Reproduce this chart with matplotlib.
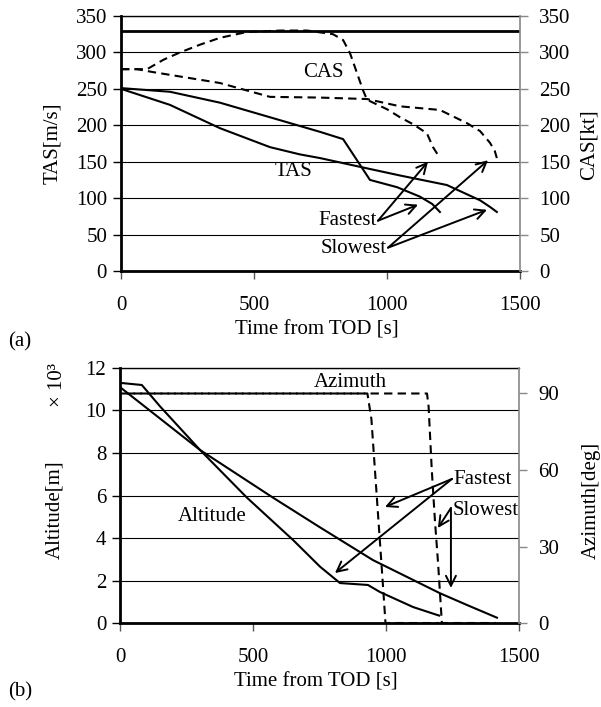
import matplotlib.pyplot as plt

plt.rcParams['font.family'] = ['Liberation Serif', 'DejaVu Serif']
plt.rcParams['font.size'] = 15

# (a) TAS [m/s] and CAS [kt] vs time from TOD [s]
tas_fast_t = [0, 184, 372, 560, 748, 835, 936, 1038, 1124, 1170, 1199]
tas_fast = [251, 246, 231, 211, 191, 181, 125, 115, 102, 92, 81]
tas_slow_t = [0, 184, 372, 560, 673, 748, 898, 1050, 1225, 1350, 1387, 1413]
tas_slow = [250, 228, 196, 170, 160, 155, 143, 131, 118, 97, 88, 81]

cas_fast_t = [0, 98, 160, 222, 300, 372, 473, 600, 700, 797, 835, 861, 910, 925,
              1000, 1049, 1100, 1150, 1173, 1199]
cas_fast = [277, 277, 290, 300, 311, 320, 328, 330, 330, 325, 317, 299, 248, 235,
            222, 211, 201, 189, 170, 155]
cas_slow_t = [0, 60, 120, 372, 560, 748, 925, 1049, 1199, 1300, 1350, 1387, 1405, 1413]
cas_slow = [277, 277, 273, 258, 239, 238, 236, 226, 221, 203, 192, 176, 165, 155]
vmo = 330

# (b) altitude [x10^3 m] and azimuth [deg] vs time from TOD [s]
alt_fast_t = [0, 82, 150, 301, 477, 651, 752, 827, 932, 977, 1102, 1192, 1200]
alt_fast = [11.3, 11.2, 10.2, 8.14, 5.9, 3.9, 2.65, 1.88, 1.79, 1.46, 0.75, 0.38, 0.35]
alt_slow_t = [0, 301, 575, 752, 951, 1203, 1304, 1417]
alt_slow = [11.1, 8.14, 5.9, 4.5, 2.96, 1.4, 0.85, 0.25]

az_fast_t = [0, 930, 945, 965, 985, 998, 1200]
az_fast = [90, 90, 80, 50, 20, 0, 0]
az_slow_t = [0, 1154, 1160, 1172, 1184, 1196, 1210, 1413]
az_slow = [90, 90, 85, 60, 40, 23, 0, 0]

time_ticks = [0, 500, 1000, 1500]

lw = 1.5
dash = (0, (4, 2.5))
dash2 = (3.25, (4, 2.5))
arrow = dict(arrowstyle='->', lw=1.4, color='black', mutation_scale=18,
             shrinkA=0, shrinkB=0)


def style(ax, axr, ylim, yticks, ylim_r, yticks_r):
    ax.set_xlim(0, 1500)
    ax.set_ylim(*ylim)
    ax.set_yticks(yticks)
    ax.set_xticks(time_ticks)
    axr.set_ylim(*ylim_r)
    axr.set_yticks(yticks_r)
    ax.yaxis.grid(True, color='black', lw=0.8)
    ax.set_axisbelow(True)
    ax.spines['left'].set_linewidth(2)
    ax.spines['bottom'].set_linewidth(2)
    ax.spines['top'].set_linewidth(1)
    ax.spines['right'].set_visible(False)
    for s in ['left', 'bottom', 'top']:
        axr.spines[s].set_visible(False)
    axr.spines['right'].set_color('#888888')
    axr.spines['right'].set_linewidth(1.2)
    ax.tick_params(axis='y', direction='out', length=6, width=1, pad=4)
    ax.tick_params(axis='x', direction='out', length=6, width=1, color='#555555', pad=12)
    axr.tick_params(axis='y', direction='out', length=6, width=1, color='#888888', pad=8)


fig = plt.figure(figsize=(6.01, 7.07), dpi=100)

# ---- (a)
ax1 = fig.add_axes([0.2013, 0.6167, 0.6639, 0.3607])
ax1r = ax1.twinx()
style(ax1, ax1r, (0, 350), range(0, 351, 50), (0, 350), range(0, 351, 50))

ax1r.axhline(vmo, color='black', lw=2)
ax1.plot(tas_fast_t, tas_fast, color='black', lw=lw)
ax1.plot(tas_slow_t, tas_slow, color='black', lw=lw)
ax1r.plot(cas_fast_t, cas_fast, color='black', lw=lw, linestyle=dash)
ax1r.plot(cas_slow_t, cas_slow, color='black', lw=lw, linestyle=dash)

ax1.text(760, 273, 'CAS', ha='center', va='center')
ax1.text(647, 136, 'TAS', ha='center', va='center')
ax1.text(962, 69, 'Fastest', ha='right', va='center')
ax1.text(1000, 31, 'Slowest', ha='right', va='center')
ax1.annotate('', xy=(1154, 150), xytext=(966, 69), arrowprops=arrow)
ax1.annotate('', xy=(1117, 91), xytext=(966, 69), arrowprops=arrow)
ax1.annotate('', xy=(1380, 152), xytext=(1004, 32), arrowprops=arrow)
ax1.annotate('', xy=(1376, 84), xytext=(1004, 32), arrowprops=arrow)

ax1.set_xlabel('Time from TOD [s]')
ax1.xaxis.set_label_coords(0.49, -0.195)
ax1.set_ylabel('TAS[m/s]')
ax1.yaxis.set_label_coords(-0.148, 0.5)
ax1r.set_ylabel('CAS[kt]')
ax1r.yaxis.set_label_coords(1.15, 0.494)
fig.text(0.013, 1 - 342 / 707, '(a)', va='center')

# ---- (b)
ax2 = fig.add_axes([0.1997, 0.1188, 0.6639, 0.3607])
ax2r = ax2.twinx()
style(ax2, ax2r, (0, 12), range(0, 13, 2), (0, 100), [0, 30, 60, 90])

ax2.plot(alt_fast_t, alt_fast, color='black', lw=lw)
ax2.plot(alt_slow_t, alt_slow, color='black', lw=lw)
ax2r.plot(az_fast_t, az_fast, color='black', lw=lw, linestyle=dash)
ax2r.plot(az_slow_t, az_slow, color='black', lw=lw, linestyle=dash2)

ax2.text(865, 11.3, 'Azimuth', ha='center', va='center')
ax2.text(346, 5.0, 'Altitude', ha='center', va='center')
ax2.text(1252, 6.75, 'Fastest', ha='left', va='center')
ax2.text(1252, 5.3, 'Slowest', ha='left', va='center')
ax2.annotate('', xy=(996, 5.46), xytext=(1248, 6.78), arrowprops=arrow)
ax2.annotate('', xy=(808, 2.35), xytext=(1248, 6.78), arrowprops=arrow)
ax2.annotate('', xy=(1195, 4.47), xytext=(1244, 5.41), arrowprops=arrow)
ax2.annotate('', xy=(1244, 1.65), xytext=(1244, 5.41), arrowprops=arrow)

ax2.set_xlabel('Time from TOD [s]')
ax2.xaxis.set_label_coords(0.49, -0.195)
ax2.set_ylabel('Altitude[m]')
ax2.yaxis.set_label_coords(-0.14, 0.443)
ax2r.set_ylabel('Azimuth[deg]')
ax2r.yaxis.set_label_coords(1.158, 0.48)
fig.text(57 / 601, 1 - 385 / 707, '× 10³', rotation=90, ha='center', va='center')
fig.text(0.013, 1 - 692 / 707, '(b)', va='center')

fig.savefig('out.png', dpi=100)
